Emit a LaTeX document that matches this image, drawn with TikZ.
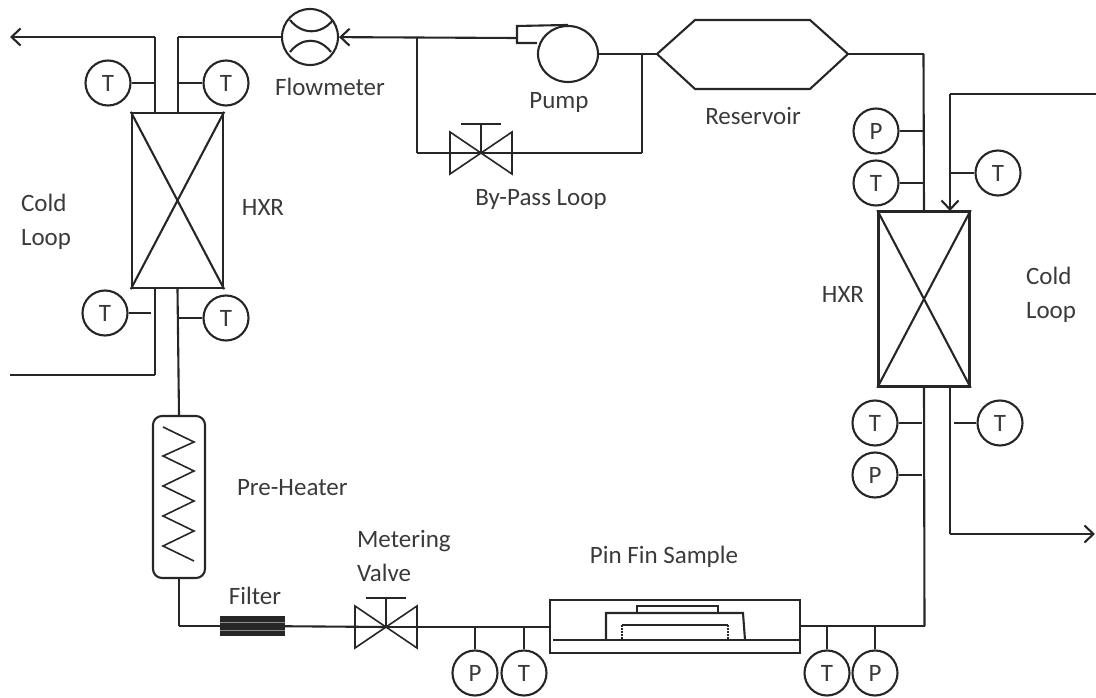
\documentclass[tikz,border=0pt]{standalone}
\usepackage{fontspec}
\setmainfont{Carlito}
\usetikzlibrary{arrows.meta, positioning, shapes.geometric}
\definecolor{ink}{HTML}{262626}
\definecolor{lbl}{HTML}{3A3A3A}
\tikzset{
  valve/.pic={
    \draw[line width=1.6pt] (-31,-21) -- (31,21) -- (31,-21) -- (-31,21) -- cycle;
    \draw[line width=1.6pt] (0,0) -- (0,-29) (-20,-29) -- (20,-29);
  }
}
\begin{document}
\begin{tikzpicture}[x=1pt,y=-1pt,>={Straight Barb[length=9pt,width=17pt,line width=2.1pt]},node distance=52pt,line width=2.1pt,draw=ink,
    gauge/.style={circle,draw=ink,minimum size=45pt,inner sep=0pt,font=\fontsize{25}{27}\selectfont,text=lbl},
    hxr/.style={rectangle,draw=ink,minimum width=91pt,minimum height=175pt,line width=2.4pt},
    lbl/.style={font=\fontsize{25}{34}\selectfont,text=lbl,inner sep=0pt,align=left}]
  \useasboundingbox (0,0) rectangle (1096,698);

  \node[hxr] (hxl) at (177.5,200.5) {};
  \node[hxr] (hxr) at (924,299) {};
  \draw (hxl.north west) -- (hxl.south east) (hxl.north east) -- (hxl.south west);
  \draw (hxr.north west) -- (hxr.south east) (hxr.north east) -- (hxr.south west);

  \node[gauge] (tl1) at (108,83) {T};
  \node[gauge] (tl2) at (226,83) {T};
  \node[gauge] (tl3) at (105,313) {T};
  \node[gauge] (tl4) at (226,318) {T};
  \node[gauge] (pr1) at (876,131) {P};
  \node[gauge] (tr1) [below of=pr1] {T};
  \node[gauge] (tr2) at (998,173) {T};
  \node[gauge] (tr3) at (875,423) {T};
  \node[gauge] (pr2) [below of=tr3] {P};
  \node[gauge] (tr4) at (1000,423) {T};
  \node[gauge] (pb1) at (475,673) {P};
  \node[gauge] (tb1) [right of=pb1,node distance=49pt] {T};
  \node[gauge] (tb2) at (827,673) {T};
  \node[gauge] (pb2) [right of=tb2,node distance=48pt] {P};

  \node[circle,draw=ink,minimum size=56pt,inner sep=0pt] (fm) at (310,37) {};
  \draw (290,20) .. controls (302,35) and (321,35) .. (333,20);
  \draw (290,52) .. controls (302,37) and (319,37) .. (331,52);

  \node[ellipse,draw=ink,minimum width=60pt,minimum height=56pt,inner sep=0pt] (pump) at (568,54) {};
  \coordinate (pb) at (517,26);
  \draw (pump.north) -- (pb) -- (517,43) -- (pump.west |- 0,43);

  \coordinate (rl) at (657,54);
  \coordinate (rr) at (848,54);
  \draw (rl) -- (695,20) -- (810,20) -- (rr) -- (810,89) -- (695,89) -- cycle;

  \coordinate (vb) at (481,153);
  \coordinate (vm) at (386,627);
  \pic at (vb) {valve};
  \pic at (vm) {valve};

  \node[rectangle,draw=ink,rounded corners=9pt,minimum width=52pt,minimum height=162pt] (ph) at (179,497) {};
  \draw[line width=1.6pt] (163,427) -- (194,442) -- (163,456) -- (194,471) -- (163,486) -- (194,501) -- (163,516) -- (194,531) -- (163,546) -- (194,561);

  \node[rectangle,draw=ink,fill=ink,minimum width=62pt,minimum height=17pt,inner sep=0pt] (flt) at (252.5,626) {};
  \draw[white!55!black,line width=1pt] (flt.west |- 0,622) -- (flt.east |- 0,622) (flt.west |- 0,630) -- (flt.east |- 0,630);

  \node[rectangle,draw=ink,minimum width=250pt,minimum height=53pt,line width=2.4pt] (pin) at (675,626.5) {};
  \draw (553,640) -- (800,640);
  \draw (606,640) -- (606,613) -- (743,613) -- (745,640);
  \draw (637,613) -- (637,606) -- (718,606) -- (718,613);
  \draw (622,625) -- (728,625);
  \draw[densely dotted] (622,625) -- (622,640) (728,625) -- (728,640);

  \coordinate (c1) at (155,37);
  \coordinate (c2) at (178,37);
  \coordinate (c3) at (155,375);
  \coordinate (c4) at (10,375);
  \coordinate (c5) at (10,37);
  \coordinate (c6) at (417,38);
  \coordinate (c7) at (417,153);
  \coordinate (c8) at (642,153);
  \coordinate (c9) at (642,54);
  \coordinate (c10) at (517,38);
  \coordinate (c11) at (923.5,54);
  \coordinate (c12) at (924.5,626);
  \coordinate (c13) at (950,94);
  \coordinate (c14) at (1096,94);
  \coordinate (c15) at (950,534);
  \coordinate (c16) at (1095,534);
  \coordinate (c17) at (179,626);

  \path (c1) edge [->] (c5)
        (fm) edge [line width=1.6pt] (c2)
        (c2) edge (178,113)
        (c1) edge (155,113)
        (155,288) edge (c3)
        (c3) edge (c4)
        (c10) edge [->] (fm)
        (c6) edge (c7)
        (c7) edge [line width=1.6pt] (vb)
        (vb) edge [line width=1.6pt] (c8)
        (c8) edge (c9)
        (pump) edge (rl)
        (rr) edge (c11)
        (c11) edge (hxr.north)
        (c14) edge (c13)
        (c13) edge [->] (950,211)
        (hxr.south) edge (c12)
        (c12) edge (pin.east |- c12)
        (950,386) edge (c15)
        (c15) edge [->] (c16)
        (hxl.south) edge (ph.north)
        (ph.south) edge (c17)
        (c17) edge (flt)
        (flt) edge (vm)
        (vm) edge (pin.west |- vm);

  \path (tl1) edge (tl1 -| c1)
        (tl2) edge (tl2 -| c2)
        (tl3) edge (151,313)
        (tl4) edge (tl4 -| c2)
        (pr1) edge (pr1 -| c11)
        (tr1) edge (tr1 -| c11)
        (tr2) edge (tr2 -| c13)
        (tr3) edge (922,423)
        (pr2) edge (922,475)
        (tr4) edge (954,423)
        (pb1) edge (pb1 |- 0,626)
        (tb1) edge (tb1 |- 0,626)
        (tb2) edge (tb2 |- 0,626)
        (pb2) edge (pb2 |- 0,626);

  \node[lbl] (t1) at (330,87) {Flowmeter};
  \node[lbl] (t2) at (559,102) {Pump};
  \node[lbl] (t3) at (753,116) {Reservoir};
  \node[lbl] (t4) at (541,199) {By-Pass Loop};
  \node[lbl,anchor=west] (t5) at (20,222) {Cold\\Loop};
  \node[lbl] (t6) at (263,207) {HXR};
  \node[lbl] (t7) at (843,294) {HXR};
  \node[lbl,anchor=west] (t8) at (1025,295) {Cold\\Loop};
  \node[lbl,anchor=west] (t9) at (236,488) {Pre-Heater};
  \node[lbl,anchor=west] (t10) at (356,556) {Metering\\Valve};
  \node[lbl] (t11) at (255,596) {Filter};
  \node[lbl] (t12) at (664,557) {Pin Fin Sample};
\end{tikzpicture}
\end{document}
